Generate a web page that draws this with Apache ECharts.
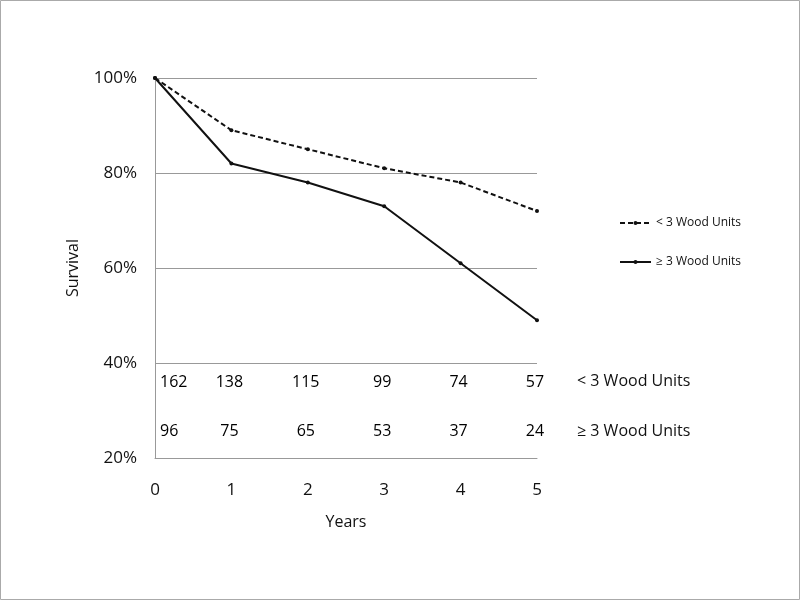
<!DOCTYPE html>
<html><head><meta charset="utf-8">
<script src="https://cdn.jsdelivr.net/npm/echarts@6/dist/echarts.min.js"></script>
<style>html,body{margin:0;padding:0;background:#fff}#c{width:800px;height:600px}</style>
</head><body><div id="c"></div>
<script>
const years = [0, 1, 2, 3, 4, 5];
const seriesNames = ['< 3 Wood Units', '≥ 3 Wood Units'];
const survivalLess3 = [100, 89, 85, 81, 78, 72];
const survivalMore3 = [100, 82, 78, 73, 61, 49];
const atRiskLess3 = [162, 138, 115, 99, 74, 57];
const atRiskMore3 = [96, 75, 65, 53, 37, 24];
const yTicks = [20, 40, 60, 80, 100];
const atRiskRowY = [36, 25.5];

const font = '"Open Sans", "Liberation Sans", sans-serif';
const chart = echarts.init(document.getElementById('c'));

function riskSeries(vals, y) {
  return {
    type: 'scatter', symbolSize: 0, silent: true, z: 5,
    itemStyle: { opacity: 1 },
    data: vals.map((v, i) => ({
      value: [years[i], y],
      label: { show: true, formatter: String(v), position: 'inside',
        align: i === 0 ? 'left' : 'center', offset: i === 0 ? [5, 0] : [-2, 0],
        color: '#000', opacity: 1, fontSize: 16, fontFamily: font }
    })),
    tooltip: { show: false }
  };
}

chart.setOption({
  animation: false,
  backgroundColor: '#fff',
  grid: { left: 155, right: 263, top: 78, bottom: 142 },
  xAxis: {
    type: 'value', min: 0, max: 5, interval: 1,
    axisLine: { show: true, lineStyle: { color: '#999', width: 1 } },
    axisTick: { show: false }, splitLine: { show: false },
    axisLabel: { margin: 24, color: '#111', fontSize: 17, fontFamily: font },
    name: 'Years', nameLocation: 'middle', nameGap: 56,
    nameTextStyle: { color: '#111', fontSize: 16, fontFamily: font }
  },
  yAxis: {
    type: 'value', min: 20, max: 100, interval: 20,
    axisLine: { show: true, lineStyle: { color: '#999', width: 1 } },
    axisTick: { show: false },
    splitLine: { show: true, lineStyle: { color: '#999', width: 1 } },
    axisLabel: { margin: 18, formatter: '{value}%', color: '#111', fontSize: 17, fontFamily: font },
    name: 'Survival', nameLocation: 'middle', nameGap: 74,
    nameTextStyle: { color: '#111', fontSize: 16, fontFamily: font }
  },
  legend: {
    orient: 'vertical', left: 614, top: 212, itemGap: 27, itemWidth: 31, itemHeight: 5,
    data: seriesNames,
    textStyle: { color: '#111', fontSize: 12, fontFamily: font }
  },
  series: [
    { name: seriesNames[0], type: 'line', data: years.map((x, i) => [x, survivalLess3[i]]),
      symbol: 'circle', symbolSize: 4, color: '#111',
      lineStyle: { color: '#111', width: 2, type: [5, 3] }, itemStyle: { color: '#111' } },
    { name: seriesNames[1], type: 'line', data: years.map((x, i) => [x, survivalMore3[i]]),
      symbol: 'circle', symbolSize: 4, color: '#111',
      lineStyle: { color: '#111', width: 2 }, itemStyle: { color: '#111' } },
    riskSeries(atRiskLess3, atRiskRowY[0]),
    riskSeries(atRiskMore3, atRiskRowY[1])
  ],
  graphic: [
    { type: 'rect', shape: { x: 0.5, y: 0.5, width: 799, height: 599 },
      style: { fill: null, stroke: '#aaa', lineWidth: 1 }, silent: true },
    { type: 'text', left: 577, top: 373,
      style: { text: seriesNames[0], fill: '#111', fontSize: 16, fontFamily: font } },
    { type: 'text', left: 577, top: 423,
      style: { text: seriesNames[1], fill: '#111', fontSize: 16, fontFamily: font } }
  ]
});
</script></body></html>
